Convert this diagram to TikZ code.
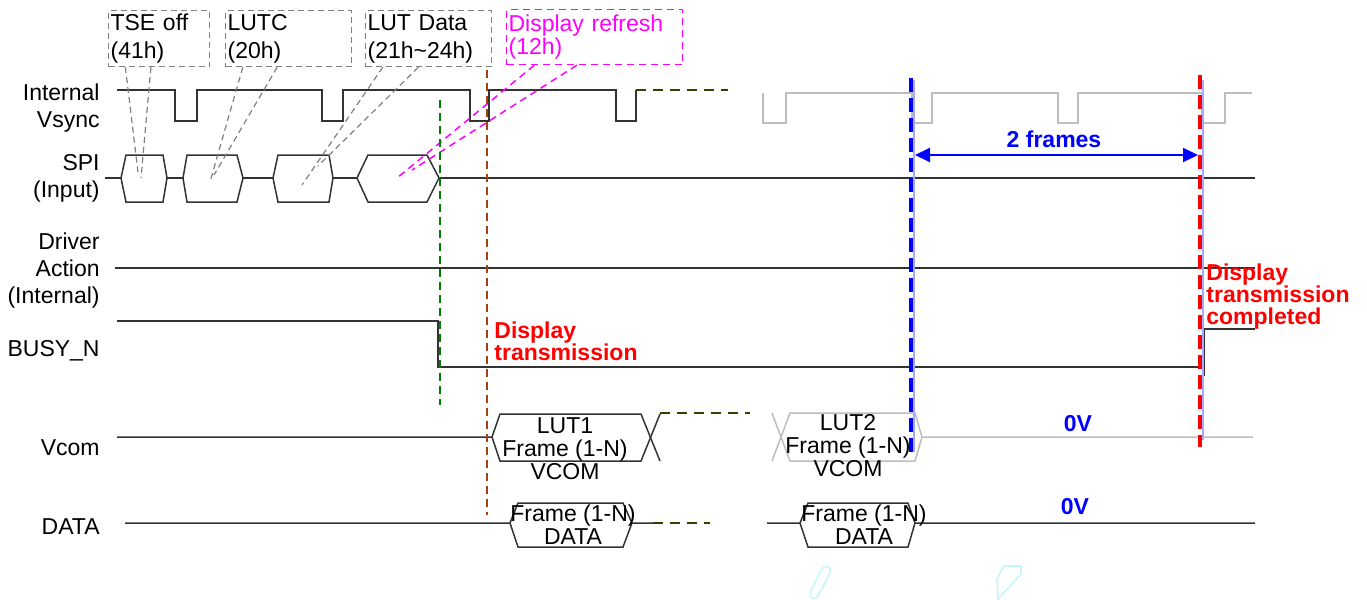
\documentclass[tikz,border=0pt]{standalone}
\usepackage{fontspec}
\setmainfont{Liberation Sans}
\usepackage{tikz}
\usetikzlibrary{arrows.meta,calc}

\definecolor{wavegray}{HTML}{333333}
\definecolor{ghostgray}{HTML}{BDBDBD}
\definecolor{notegray}{HTML}{808080}
\definecolor{pink}{HTML}{FF00FF}
\definecolor{rust}{HTML}{A5400F}
\definecolor{darkolive}{HTML}{3C3C00}
\definecolor{paleblue}{HTML}{A8A8FF}
\definecolor{penmark}{HTML}{C4F8F8}

\tikzset{
  wave/.style={wavegray, line width=0.75pt},
  ghost/.style={ghostgray, line width=0.75pt},
  sig/.style={anchor=east, align=right, inner sep=0pt},
  note/.style={draw=notegray, dash pattern=on 3pt off 2pt, line width=0.6pt, anchor=north west,
    align=left, inner xsep=1pt, inner ysep=0pt, font=\fontsize{11.5pt}{14pt}\selectfont},
  noteline/.style={notegray, dash pattern=on 3pt off 2pt, line width=0.6pt},
  pinkline/.style={pink, dash pattern=on 3.5pt off 2.5pt, line width=0.75pt},
  cont/.style={darkolive, dash pattern=on 5pt off 3.5pt, line width=1pt},
  marker/.style={dash pattern=on 4pt off 2.5pt, line width=0.8pt},
  frameline/.style={dash pattern=on 7pt off 3pt, line width=2pt},
  cell/.style={align=center, inner sep=0pt, font=\fontsize{11.5pt}{11.5pt}\selectfont},
  event/.style={red, font=\bfseries\fontsize{11.5pt}{11pt}\selectfont, anchor=north west, align=left, inner sep=0pt},
  voltlbl/.style={blue, font=\bfseries\fontsize{11.5pt}{13pt}\selectfont, inner sep=0pt}
}

\begin{document}
\begin{tikzpicture}[x=0.5pt, y=-0.5pt, font=\fontsize{11.5pt}{13.5pt}\selectfont]
\useasboundingbox (0,0) rectangle (1367,600);

% Signal names
\node[sig] (vs)   at (100,108) {Internal\\Vsync};
\node[sig] (spi)  at (100,178) {SPI\\(Input)};
\node[sig] (drv)  at (100,271) {Driver\\Action\\(Internal)};
\node[sig] (busy) at (100,351) {BUSY\_N};
\node[sig] (vcom) at (100,448) {Vcom};
\node[sig] (data) at (100,527) {DATA};

% Command notes
\node[note, text width=48.5pt, minimum height=28pt] (tse)  at (108,10) {TSE off\\(41h)};
\node[note, text width=61pt, minimum height=28pt]   (lutc) at (225,10) {LUTC\\(20h)};
\node[note, text width=61pt, minimum height=28pt]   (lutd) at (365,10) {LUT Data\\(21h\textasciitilde 24h)};
\node[note, draw=pink, text=pink, dash pattern=on 3.5pt off 2.5pt, text width=86pt, minimum height=27.5pt,
  font=\fontsize{11.5pt}{11.5pt}\selectfont] (refresh) at (506,9) {Display refresh\\(12h)};

% Internal Vsync
\draw[wave] (117,90) \foreach \a/\b in {175/197,322/343,470/489,616/636}{ -- (\a,90) -- (\a,121) -- (\b,121) -- (\b,90)};
\draw[cont] (636,90) -- (728,90);
\draw[ghost] (763,93) -- (763,123) -- (786,123) -- (786,93)
  \foreach \a/\b in {912/932,1058/1078,1202/1225}{ -- (\a,93) -- (\a,123) -- (\b,123) -- (\b,93)} -- (1252,93);

% SPI bursts
\draw[wave] (105,178) -- (1255,178);
\foreach \a/\b/\c/\d in {121/126/163/167, 183/187/237/243, 273/278/329/333, 357/368/427/439}
  \draw[wave, fill=white] (\a,178) -- (\b,155) -- (\c,155) -- (\d,178) -- (\c,202) -- (\b,202) -- cycle;

% Note pointers
\coordinate (in1a) at (138,172); \coordinate (in1b) at (141,178);
\coordinate (in2a) at (210,182); \coordinate (in2b) at (214,175);
\coordinate (in3a) at (302,185); \coordinate (in3b) at (318,166);
\coordinate (in4a) at (397,178); \coordinate (in4b) at (412,170);
\foreach \n/\f/\t in {tse/.17/in1a, tse/.42/in1b, lutc/.14/in2a, lutc/.41/in2b, lutd/.14/in3a, lutd/.42/in3b}
  \draw[noteline] ($(\n.south west)!\f!(\n.south east)$) -- (\t);
\foreach \f/\t in {.16/in4a, .40/in4b}
  \draw[pinkline] ($(refresh.south west)!\f!(refresh.south east)$) -- (\t);

% Driver action
\draw[wave] (115,268) -- (1255,268);

% BUSY_N
\draw[wave] (117,321) -- (438,321) -- (438,367) -- (1204,367);
\draw[wave] (1204,376) -- (1204,329) -- (1255,329);

% Vcom
\draw[wave] (117,437) -- (492,437) -- (500,414) -- (641,414) -- (660,461);
\draw[wave] (492,437) -- (500,461) -- (641,461) -- (660,414);
\draw[cont] (660,413) -- (750,413);
\draw[ghost] (772,413) -- (790,461) -- (915,461) -- (922,437) -- (1253,437);
\draw[ghost] (772,461) -- (790,413) -- (915,413) -- (922,437);
\node[cell] (lut1) at (565,449) {LUT1\\Frame (1-N)\\VCOM};
\node[cell] (lut2) at (848,446) {LUT2\\Frame (1-N)\\VCOM};
\node[voltlbl] (zeroa) at (1078,424) {0V};

% DATA
\draw[wave] (125,523) -- (510,523) -- (518,503) -- (623,503) -- (632,523) -- (653,523);
\draw[wave] (510,523) -- (518,547) -- (623,547) -- (632,523);
\draw[cont] (653,523) -- (710,523);
\draw[wave] (767,523) -- (800,523) -- (808,503) -- (908,503) -- (915,523) -- (1255,523);
\draw[wave] (800,523) -- (808,547) -- (908,547) -- (915,523);
\node[cell] (fr1) at (573,525) {Frame (1-N)\\DATA};
\node[cell] (fr2) at (864,525) {Frame (1-N)\\DATA};
\node[voltlbl] (zerob) at (1075,507) {0V};

% Timing markers
\draw[marker, green!50!black] (440,100) -- (440,405);
\draw[marker, rust] (487,70) -- (487,515);
\draw[paleblue, line width=1pt] (914,80) -- (914,452);
\draw[frameline, blue] (911,78) -- (911,452);
\draw[paleblue, line width=1pt] (1203,80) -- (1203,440);
\draw[frameline, red] (1200,75) -- (1200,447);

% Two frame span
\coordinate (fa) at (915,155);
\coordinate (fb) at (1198,155);
\draw[blue, line width=1pt, {Triangle[length=7.5pt,width=7pt]}-{Triangle[length=7.5pt,width=7pt]}] (fa) -- (fb);
\node[voltlbl] (frames) at (1054,139) {2 frames};

% Events
\node[event] (start) at (494,321) {Display\\transmission};
\node[event] (done) at (1206,263) {Display\\transmission\\completed};

% Pen marks
\draw[penmark, line width=0.8pt] plot[smooth cycle] coordinates {(828,567) (830,572) (818,596) (812,598) (811,591) (822,569)};
\draw[penmark, line width=0.8pt] (997,579) -- (1004,566) -- (1021,566) -- (1021,574) -- (998,599) -- cycle;
\end{tikzpicture}
\end{document}
